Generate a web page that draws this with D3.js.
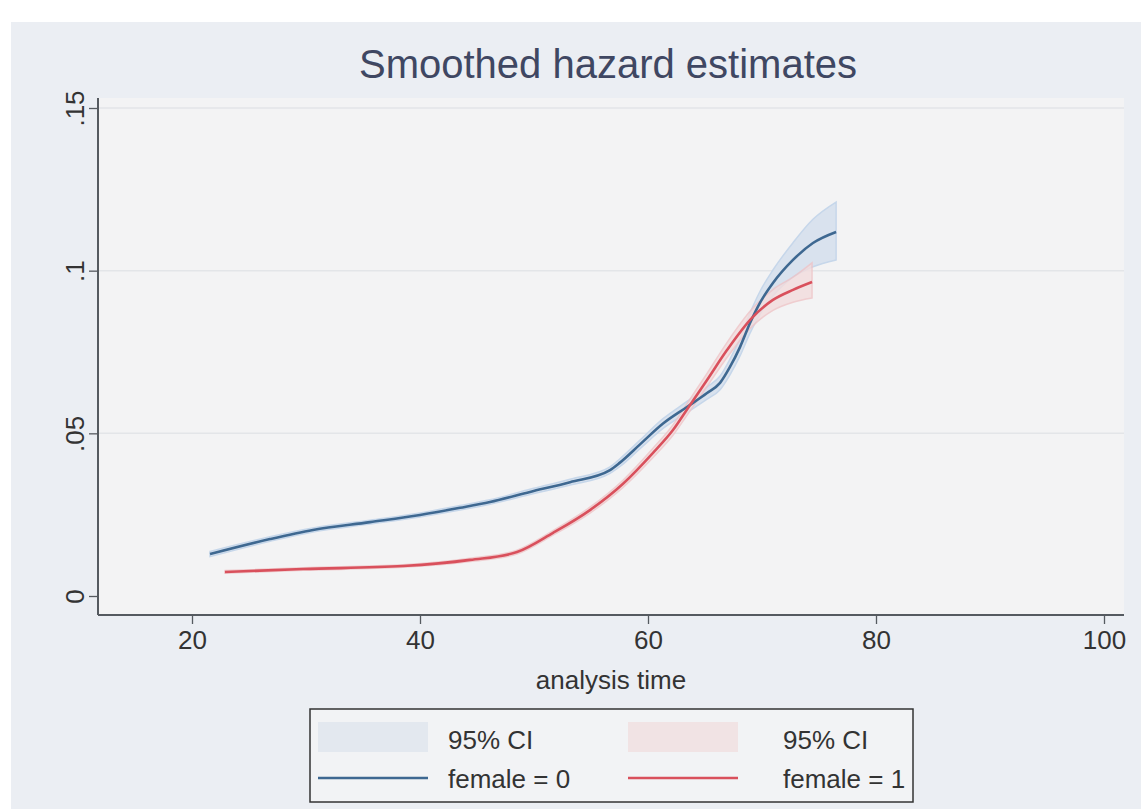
<!DOCTYPE html>
<html>
<head>
<meta charset="utf-8">
<script src="https://cdn.jsdelivr.net/npm/d3@7"></script>
<style>
html,body{margin:0;padding:0;background:#ffffff;}
svg{display:block;font-family:"Liberation Sans",Arial,sans-serif;}
</style>
</head>
<body>
<svg id="chart" width="1141" height="809"></svg>
<script>
// ---- data ----
const title = "Smoothed hazard estimates";
const xTitle = "analysis time";
const xTicks = [20, 40, 60, 80, 100];
const yTicks = [0, 0.05, 0.1, 0.15];
const yTickLabels = ["0", ".05", ".1", ".15"];

const time0 = [21.58, 26.84, 30.61, 35.61, 40.0, 43.51, 46.14, 49.65, 53.16, 56.67, 57.54, 59.30, 61.32, 63.42, 65.18, 66.32, 67.19, 68.07, 68.95, 69.82, 70.96, 72.72, 74.47, 76.50];
const haz0  = [0.0129, 0.0175, 0.0203, 0.0227, 0.0249, 0.0271, 0.0289, 0.0320, 0.0350, 0.0387, 0.0410, 0.0466, 0.0530, 0.0581, 0.0624, 0.0655, 0.0704, 0.0765, 0.0839, 0.0901, 0.0962, 0.1033, 0.1085, 0.1119];
const lo0   = [0.0121, 0.0168, 0.0197, 0.0221, 0.0243, 0.0264, 0.0282, 0.0312, 0.0341, 0.0377, 0.0398, 0.0453, 0.0515, 0.0564, 0.0605, 0.0634, 0.0680, 0.0738, 0.0808, 0.0866, 0.0922, 0.0980, 0.1012, 0.1033];
const hi0   = [0.0137, 0.0182, 0.0209, 0.0233, 0.0255, 0.0278, 0.0296, 0.0328, 0.0359, 0.0397, 0.0422, 0.0479, 0.0545, 0.0598, 0.0643, 0.0676, 0.0728, 0.0792, 0.0870, 0.0936, 0.1002, 0.1086, 0.1158, 0.1211];

const time1 = [22.89, 29.74, 38.51, 44.39, 48.51, 51.67, 54.91, 57.81, 60.44, 62.19, 63.51, 65.18, 66.93, 69.12, 70.96, 72.72, 74.39];
const haz1  = [0.0074, 0.0083, 0.0092, 0.0111, 0.0135, 0.0194, 0.0264, 0.0345, 0.0440, 0.0510, 0.0578, 0.0664, 0.0756, 0.0855, 0.0910, 0.0941, 0.0965];
const lo1   = [0.0070, 0.0079, 0.0088, 0.0106, 0.0129, 0.0187, 0.0255, 0.0334, 0.0426, 0.0494, 0.0560, 0.0644, 0.0733, 0.0828, 0.0878, 0.0903, 0.0916];
const hi1   = [0.0078, 0.0087, 0.0096, 0.0116, 0.0141, 0.0201, 0.0273, 0.0356, 0.0454, 0.0526, 0.0596, 0.0684, 0.0779, 0.0882, 0.0942, 0.0980, 0.1024];

const seriesNames = ["female = 0", "female = 1"];
const ciLabel = "95% CI";

// ---- layout ----
const svg = d3.select("#chart");
const W = 1141, H = 809;
const plot = {left: 98, right: 1124, top: 98, bottom: 615};

const x = d3.scaleLinear().domain([20, 100]).range([192, 1104]);
const y = d3.scaleLinear().domain([0, 0.15]).range([596, 108]);

// backgrounds
svg.append("rect").attr("x", 0).attr("y", 0).attr("width", W).attr("height", H).attr("fill", "#ffffff");
svg.append("rect").attr("x", 11).attr("y", 22).attr("width", W - 11).attr("height", H - 22).attr("fill", "#ebeef3");
svg.append("rect").attr("x", plot.left).attr("y", plot.top)
  .attr("width", plot.right - plot.left).attr("height", plot.bottom - plot.top).attr("fill", "#f3f3f4");

// gridlines
svg.append("g").selectAll("line").data(yTicks.slice(1)).join("line")
  .attr("x1", plot.left).attr("x2", plot.right)
  .attr("y1", d => y(d)).attr("y2", d => y(d))
  .attr("stroke", "#e3e5e8").attr("stroke-width", 1.5);

// CI bands
function band(t, lo, hi) {
  return d3.area().x((d, i) => x(t[i])).y0((d, i) => y(lo[i])).y1((d, i) => y(hi[i])).curve(d3.curveMonotoneX)(t);
}
function line(t, v) {
  return d3.line().x((d, i) => x(t[i])).y((d, i) => y(v[i])).curve(d3.curveMonotoneX)(t);
}
svg.append("path").attr("d", band(time0, lo0, hi0)).attr("fill", "#d7e1ee").attr("stroke", "#c2d4ea").attr("stroke-width", 1.5).attr("opacity", 0.9);
svg.append("path").attr("d", band(time1, lo1, hi1)).attr("fill", "#f2dcdd").attr("stroke", "#efc4c7").attr("stroke-width", 1.5).attr("opacity", 0.8);

svg.append("path").attr("d", line(time0, haz0)).attr("fill", "none").attr("stroke", "#3e6891").attr("stroke-width", 2.6);
svg.append("path").attr("d", line(time1, haz1)).attr("fill", "none").attr("stroke", "#d9505c").attr("stroke-width", 2.6);

// axes
const axisColor = "#555a60";
const fontSize = 26;
const xAxis = d3.axisBottom(x).tickValues(xTicks).tickSize(9).tickPadding(5).tickFormat(d3.format("d"));
const gx = svg.append("g").attr("transform", `translate(0,${plot.bottom})`).call(xAxis);
gx.select(".domain").attr("d", `M${plot.left},0H${plot.right}`).attr("stroke", axisColor).attr("stroke-width", 2);
gx.selectAll(".tick line").attr("stroke", axisColor).attr("stroke-width", 1.3);
gx.selectAll(".tick text").attr("font-size", fontSize).attr("fill", "#333").attr("font-family", "Liberation Sans, Arial, sans-serif").attr("dy", "0.75em");

const yAxis = d3.axisLeft(y).tickValues(yTicks).tickSize(9).tickFormat((d, i) => yTickLabels[i]);
const gy = svg.append("g").attr("transform", `translate(${plot.left},0)`).call(yAxis);
gy.select(".domain").attr("d", `M0,${plot.top}V${plot.bottom}`).attr("stroke", axisColor).attr("stroke-width", 2);
gy.selectAll(".tick line").attr("stroke", axisColor).attr("stroke-width", 1.3);
gy.selectAll(".tick text")
  .attr("x", null).attr("dy", null)
  .attr("transform", "translate(-14,0) rotate(-90)")
  .attr("text-anchor", "middle")
  .attr("font-size", fontSize).attr("fill", "#333").attr("font-family", "Liberation Sans, Arial, sans-serif");

// titles
svg.append("text").attr("x", 608).attr("y", 78)
  .attr("text-anchor", "middle").attr("font-size", 40).attr("fill", "#3f4762").text(title);
svg.append("text").attr("x", 611).attr("y", 689)
  .attr("text-anchor", "middle").attr("font-size", fontSize).attr("fill", "#333").text(xTitle);

// legend
const lg = svg.append("g");
lg.append("rect").attr("x", 310).attr("y", 709).attr("width", 603).attr("height", 93)
  .attr("fill", "#f2f3f5").attr("stroke", "#333").attr("stroke-width", 1.5);
const cols = [
  {sx: 318, tx: 448, fill: "#e3e8ef", color: "#3e6891", name: seriesNames[0]},
  {sx: 628, tx: 783, fill: "#f1e3e4", color: "#d9505c", name: seriesNames[1]}
];
cols.forEach(c => {
  lg.append("rect").attr("x", c.sx).attr("y", 722).attr("width", 110).attr("height", 30).attr("fill", c.fill);
  lg.append("text").attr("x", c.tx).attr("y", 749).attr("font-size", fontSize).attr("fill", "#333").text(ciLabel);
  lg.append("line").attr("x1", c.sx).attr("x2", c.sx + 110).attr("y1", 778).attr("y2", 778)
    .attr("stroke", c.color).attr("stroke-width", 2.6);
  lg.append("text").attr("x", c.tx).attr("y", 788).attr("font-size", fontSize).attr("fill", "#333").text(c.name);
});
</script>
</body>
</html>
